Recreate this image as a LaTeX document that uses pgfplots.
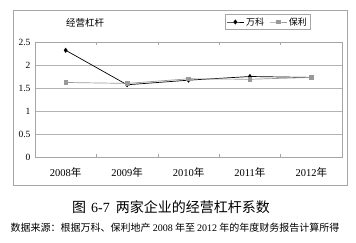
\documentclass[border=0pt]{standalone}
\usepackage{fontspec}
\setmainfont{Liberation Serif}
\newfontfamily\cjk{Noto Sans CJK SC}
\usepackage{pgfplots}
\pgfplotsset{compat=1.18}
\begin{document}
\begin{tikzpicture}[x=1pt,y=1pt]
\path[use as bounding box] (0,0) rectangle (356,242);
\draw[gray!70, line width=0.6pt] (13,57) rectangle (347,232);
\begin{axis}[at={(35pt,85pt)}, anchor=south west, scale only axis,
 width=307pt, height=115pt,
 xmin=-0.5, xmax=4.5, ymin=0, ymax=2.5,
 xtick={0,1,2,3,4},
 xticklabels={2008{\cjk 年},2009{\cjk 年},2010{\cjk 年},2011{\cjk 年},2012{\cjk 年}},
 minor xtick={0.5,1.5,2.5,3.5},
 ytick={0,0.5,1,1.5,2,2.5},
 yticklabels={0,0.5,1,1.5,2,2.5},
 ymajorgrids, grid style={gray!60, line width=0.6pt},
 axis line style={gray!70, line width=0.6pt},
 major tick length=0pt, minor tick length=3pt, tick align=inside,
 tick style={gray!70, line width=0.6pt},
 xticklabel style={font=\fontsize{10.5}{10.5}\selectfont, yshift=-7pt},
 yticklabel style={font=\fontsize{9.5}{9.5}\selectfont, xshift=-1pt},
 legend style={at={(0.758,1.174)}, anchor=center, draw=gray!70,
   font=\cjk\fontsize{9}{9}\selectfont, legend columns=2, inner sep=1pt,
   /tikz/every even column/.append style={column sep=3pt}},
]
\addplot[black, line width=0.7pt, mark=diamond*, mark size=2pt, mark options={fill=black}]
 coordinates {(0,2.32) (1,1.57) (2,1.67) (3,1.75) (4,1.73)};
\addlegendentry{万科}
\addplot[gray!80, line width=0.7pt, mark=square*, mark size=1.8pt, mark options={fill=gray!80}]
 coordinates {(0,1.62) (1,1.60) (2,1.70) (3,1.69) (4,1.73)};
\addlegendentry{保利}
\end{axis}
\node[font=\cjk\fontsize{9.5}{9.5}\selectfont] at (85,219) {经营杠杆};
\node[font=\cjk\fontsize{14}{14}\selectfont] at (171,35) {图\hspace{5pt}{\rmfamily 6-7}\hspace{6pt}两家企业的经营杠杆系数};
\node[font=\cjk\fontsize{10}{10}\selectfont] at (175,14) {数据来源：根据万科、保利地产 {\rmfamily 2008} 年至 {\rmfamily 2012} 年的年度财务报告计算所得};
\end{tikzpicture}
\end{document}
